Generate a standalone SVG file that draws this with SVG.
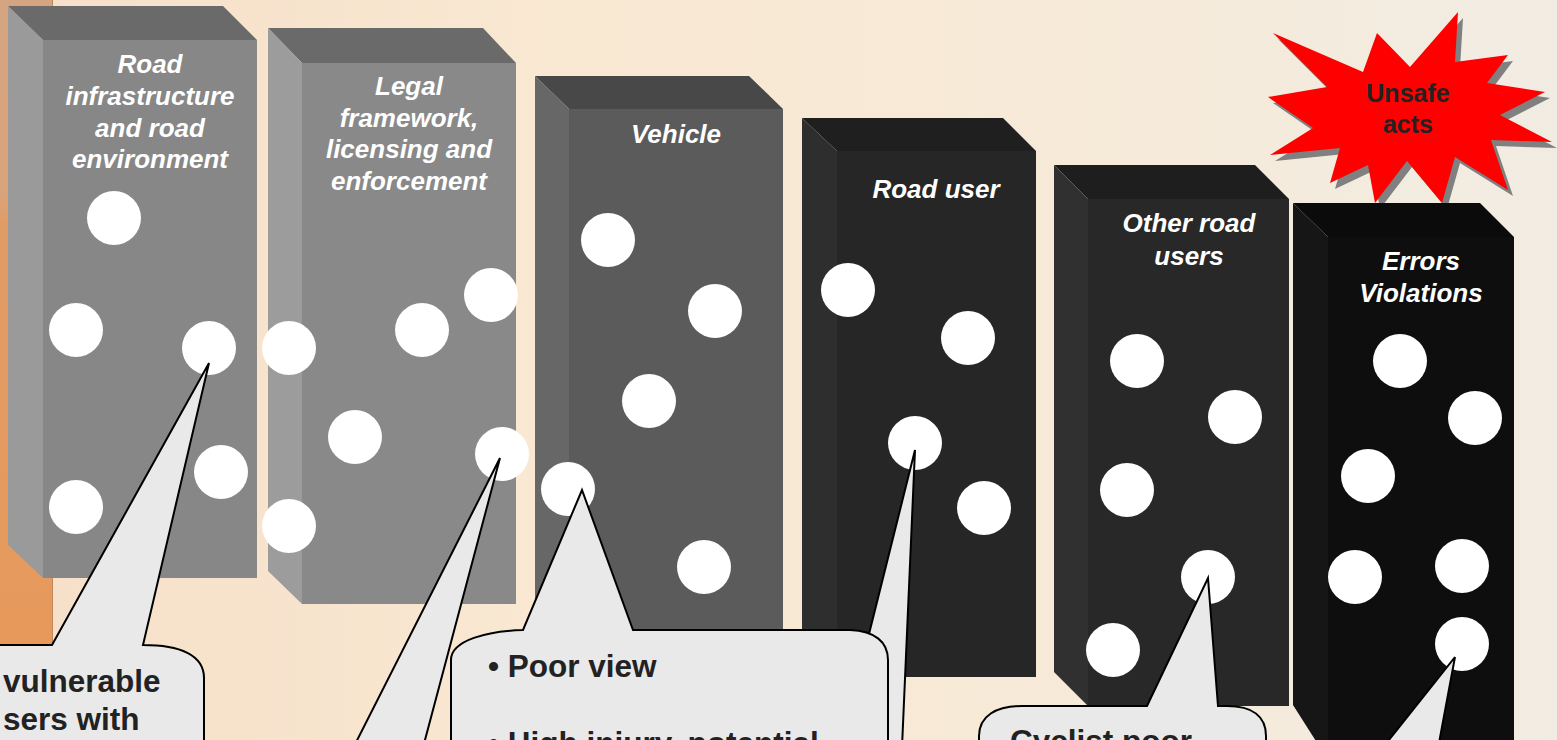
<svg xmlns="http://www.w3.org/2000/svg" width="1557" height="740" viewBox="0 0 1557 740">
<defs>
<linearGradient id="bg" x1="0" y1="0" x2="1" y2="0">
<stop offset="0" stop-color="#f6dfc8"/>
<stop offset="0.35" stop-color="#f9e8d2"/>
<stop offset="0.7" stop-color="#f6ead8"/>
<stop offset="1" stop-color="#f1ece3"/>
</linearGradient>
<linearGradient id="strip" x1="0" y1="0" x2="0" y2="1">
<stop offset="0" stop-color="#d5a581"/>
<stop offset="0.28" stop-color="#d9a47c"/>
<stop offset="0.33" stop-color="#e09c66"/>
<stop offset="1" stop-color="#e8995a"/>
</linearGradient>
<style>
.title{font-family:"Liberation Sans",Arial,sans-serif;font-size:26px;font-weight:bold;font-style:italic;fill:#ffffff;text-anchor:middle}
.call{font-family:"Liberation Sans",Arial,sans-serif;font-size:31.5px;font-weight:bold;fill:#222222}
.star{font-family:"Liberation Sans",Arial,sans-serif;font-size:25px;font-weight:bold;fill:#222222;text-anchor:middle}
.dot{fill:#ffffff}
.bubble{fill:#e9e9e9;stroke:#000000;stroke-width:2;stroke-linejoin:miter}
</style>
</defs>
<rect x="0" y="0" width="1557" height="740" fill="url(#bg)"/>
<rect x="0" y="0" width="52" height="680" fill="url(#strip)"/>
<line x1="52.5" y1="0" x2="52.5" y2="680" stroke="#c0875a" stroke-width="1"/>

<g id="unsafe-acts">
<polygon fill="#808080" transform="translate(5,6)" points="1273,33 1363,72 1377,33 1410,67 1458,12 1455,62 1508,55 1487,83 1545,92 1500,115 1552,142 1491,140 1508,190 1455,157 1442,203 1407,161 1375,203 1368,165 1330,183 1340,148 1270,155 1313,128 1268,97 1327,87"/>
<polygon fill="#ff0000" points="1273,33 1363,72 1377,33 1410,67 1458,12 1455,62 1508,55 1487,83 1545,92 1500,115 1552,142 1491,140 1508,190 1455,157 1442,203 1407,161 1375,203 1368,165 1330,183 1340,148 1270,155 1313,128 1268,97 1327,87"/>
<text class="star" x="1408" y="102">Unsafe</text>
<text class="star" x="1408" y="133">acts</text>
</g>

<g id="block-road-infrastructure">
<polygon fill="#6a6a6a" points="8,6 223,6 257,40 43,40"/>
<polygon fill="#9a9a9a" points="8,6 43,40 43,578 8,545"/>
<rect x="43" y="40" width="214" height="538" fill="#878787"/>
<text class="title" x="150" y="73">Road</text>
<text class="title" x="150" y="105">infrastructure</text>
<text class="title" x="150" y="137">and road</text>
<text class="title" x="150" y="168">environment</text>
<circle class="dot" cx="114" cy="218" r="27"/>
<circle class="dot" cx="76" cy="330" r="27"/>
<circle class="dot" cx="209" cy="348" r="27"/>
<circle class="dot" cx="221" cy="472" r="27"/>
<circle class="dot" cx="76" cy="507" r="27"/>
</g>

<g id="block-legal-framework">
<polygon fill="#6a6a6a" points="268,28 483,28 516,63 302,63"/>
<polygon fill="#9c9c9c" points="268,28 302,63 302,604 268,571"/>
<rect x="302" y="63" width="214" height="541" fill="#898989"/>
<text class="title" x="409" y="95">Legal</text>
<text class="title" x="409" y="127">framework,</text>
<text class="title" x="409" y="158">licensing and</text>
<text class="title" x="409" y="190">enforcement</text>
<circle class="dot" cx="289" cy="348" r="27"/>
<circle class="dot" cx="491" cy="295" r="27"/>
<circle class="dot" cx="422" cy="330" r="27"/>
<circle class="dot" cx="355" cy="437" r="27"/>
<circle class="dot" cx="502" cy="454" r="27"/>
<circle class="dot" cx="289" cy="526" r="27"/>
</g>

<g id="block-vehicle">
<polygon fill="#484848" points="535,76 749,76 783,109 569,109"/>
<polygon fill="#676767" points="535,76 569,109 569,665 535,632"/>
<rect x="569" y="109" width="214" height="556" fill="#5b5b5b"/>
<text class="title" x="676" y="143">Vehicle</text>
<circle class="dot" cx="608" cy="240" r="27"/>
<circle class="dot" cx="715" cy="311" r="27"/>
<circle class="dot" cx="649" cy="401" r="27"/>
<circle class="dot" cx="568" cy="489" r="27"/>
<circle class="dot" cx="704" cy="567" r="27"/>
</g>

<g id="block-road-user">
<polygon fill="#1f1f1f" points="802,118 1003,118 1036,151 837,151"/>
<polygon fill="#2e2e2e" points="802,118 837,151 837,677 802,644"/>
<rect x="837" y="151" width="199" height="526" fill="#262626"/>
<text class="title" x="936" y="198">Road user</text>
<circle class="dot" cx="848" cy="290" r="27"/>
<circle class="dot" cx="968" cy="338" r="27"/>
<circle class="dot" cx="915" cy="443" r="27"/>
<circle class="dot" cx="984" cy="508" r="27"/>
</g>

<g id="block-other-road-users">
<polygon fill="#1e1e1e" points="1054,165 1255,165 1289,199 1088,199"/>
<polygon fill="#303030" points="1054,165 1088,199 1088,706 1054,672"/>
<rect x="1088" y="199" width="201" height="507" fill="#282828"/>
<text class="title" x="1189" y="232">Other road</text>
<text class="title" x="1189" y="265">users</text>
<circle class="dot" cx="1137" cy="361" r="27"/>
<circle class="dot" cx="1235" cy="417" r="27"/>
<circle class="dot" cx="1127" cy="490" r="27"/>
<circle class="dot" cx="1208" cy="577" r="27"/>
<circle class="dot" cx="1113" cy="650" r="27"/>
</g>

<g id="block-errors-violations">
<polygon fill="#0b0b0b" points="1293,203 1480,203 1514,237 1328,237"/>
<polygon fill="#161616" points="1293,203 1328,237 1328,760 1293,705"/>
<rect x="1328" y="237" width="186" height="523" fill="#0e0e0e"/>
<text class="title" x="1421" y="270">Errors</text>
<text class="title" x="1421" y="302">Violations</text>
<circle class="dot" cx="1400" cy="361" r="27"/>
<circle class="dot" cx="1475" cy="418" r="27"/>
<circle class="dot" cx="1368" cy="476" r="27"/>
<circle class="dot" cx="1355" cy="577" r="27"/>
<circle class="dot" cx="1462" cy="566" r="27"/>
<circle class="dot" cx="1462" cy="644" r="27"/>
</g>

<g id="callouts">
<g id="callout-road-infrastructure">
<path class="bubble" d="M -20,645 L 52,645 L 209,363 L 143,645 C 180,645 204,655 204,678 L 204,770 L -20,770 Z"/>
<text class="call" x="3" y="692">vulnerable</text>
<text class="call" x="3" y="730">sers with</text>
</g>
<g id="callout-legal">
<path class="bubble" d="M 342,770 L 500,458 L 417,770 Z"/>
</g>
<g id="callout-road-user">
<path class="bubble" d="M 835,770 L 915,450 L 901,770 Z"/>
</g>
<g id="callout-vehicle">
<path class="bubble" d="M 451,770 L 451,660 C 451,640 488,631 523,630 L 582,490 L 633,630 L 850,630 C 875,631 888,642 888,660 L 888,770 Z"/>
<text class="call" x="488" y="677">• Poor view</text>
<text class="call" x="488" y="754">• High injury, potential</text>
</g>
<g id="callout-other-road-users">
<path class="bubble" d="M 979,770 L 979,736 C 979,716 996,706 1022,706 L 1147,706 L 1208,578 L 1218,706 L 1227,706 C 1252,706 1266,716 1266,736 L 1266,770 Z"/>
<text class="call" x="1010" y="752">Cyclist poor</text>
</g>
<g id="callout-errors">
<path class="bubble" d="M 1365,770 L 1455,657 L 1434,770 Z"/>
</g>
</g>
</svg>
